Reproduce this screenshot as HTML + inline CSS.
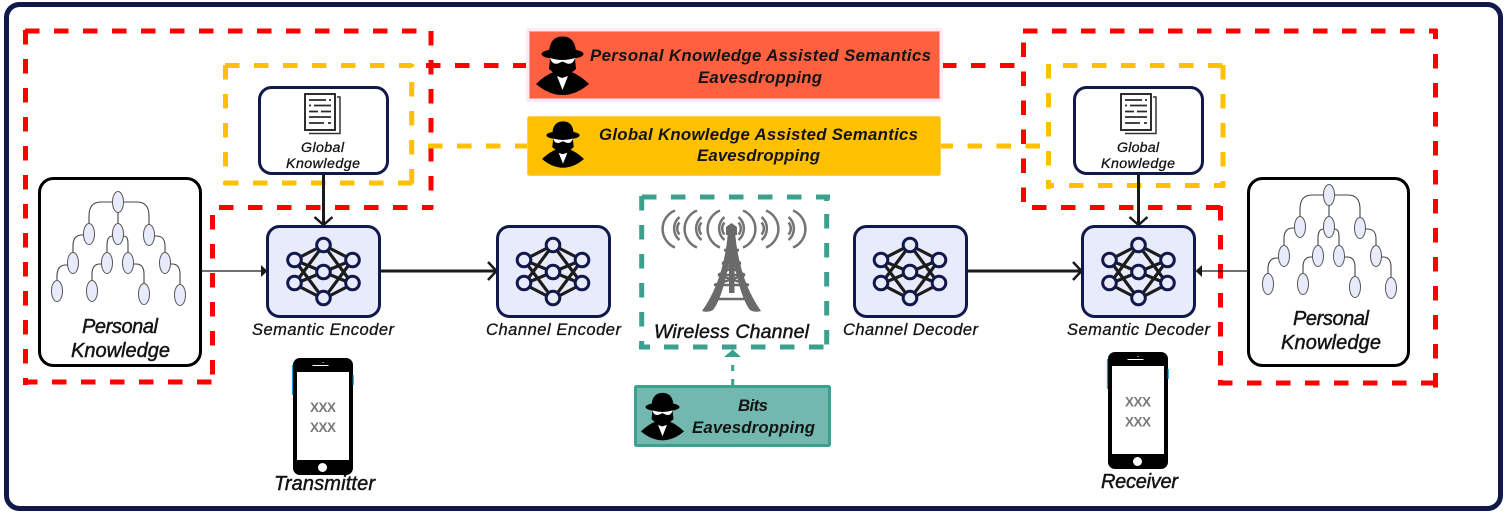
<!DOCTYPE html>
<html><head><meta charset="utf-8"><title>Semantic Eavesdropping Diagram</title>
<style>
html,body{margin:0;padding:0;background:#fff;width:1507px;height:515px;overflow:hidden}
svg{display:block}
text{font-family:"Liberation Sans",sans-serif;font-style:italic;fill:#141414}
.b{font-weight:bold;font-size:16.8px}
.m{font-size:16.5px;stroke:#141414;stroke-width:.3}
.l{font-size:20px;stroke:#141414;stroke-width:.45}
.s{font-size:14.2px;stroke:#141414;stroke-width:.3}
.x{font-style:normal;font-weight:bold;font-size:13.5px;fill:#7a7a7a}
</style></head><body>
<svg width="1507" height="515" viewBox="0 0 1507 515" xmlns="http://www.w3.org/2000/svg">
<defs>
<symbol id="spy" viewBox="0 0 53 60" overflow="visible">
<path d="M13 19 C13 7 18 1.500 26.500 1.500 C35 1.500 40 7 40 19Z" fill="#000"/>
<ellipse cx="26.500" cy="19" rx="21" ry="5.500" fill="#000"/>
<path d="M14 24 H39 L40 34 L34 39 H19 L13 34Z" fill="#000"/>
<path d="M14 23 Q26.500 27 39 23 Q37 30 31 28.500 L26.500 26.500 L22 28.500 Q16 30 14 23Z" fill="#fff"/>
<path d="M0 49 Q9 40 20 36 L33 36 Q44 40 53 49 Q40 60 26.500 60 Q13 60 0 49Z" fill="#000"/>
<path d="M21 41 L26 43 L32 41 L26.500 55Z" fill="#fff"/>
</symbol>
<g id="nn">
<g stroke="#1c1c1c" stroke-width="3.200" fill="none">
<path d="M-29 -12 L0 -27 L29 -12 M-29 12 L0 -27 L29 12 M-29 -12 L0 27 L29 -12 M-29 12 L0 27 L29 12 M-29 -12 L0 0 L29 -12 M-29 12 L0 0 L29 12"/>
</g>
<g fill="#e8ebfc" stroke="#10194a" stroke-width="3">
<circle cx="0" cy="-27" r="6.800"/><circle cx="0" cy="0" r="6.800"/><circle cx="0" cy="26" r="6.800"/>
<circle cx="-29" cy="-12" r="6.800"/><circle cx="-29" cy="11" r="6.800"/><circle cx="29" cy="-12" r="6.800"/><circle cx="29" cy="11" r="6.800"/>
</g>
</g>
<g id="tree">
<g fill="none" stroke="#444" stroke-width="1.100">
<path d="M118 202 H101 C92 202 89 208 89 216 V234 M118 202 H137 C146 202 149 208 149 216 V235 M118 202 V234"/>
<path d="M89 235 H82 C75 235 73 240 73 246 V263 M118 236 H113 C108 236 107 240 107 246 V263 M118 236 H123 C128 236 128 240 128 246 V263 M149 236 H156 C163 236 165 240 165 246 V263"/>
<path d="M73 265 H66 C59 265 57 270 57 276 V291 M107 264 H100 C94 264 92 268 92 274 V291 M128 264 H136 C142 264 144 268 144 274 V294 M165 264 H172 C178 264 180 268 180 274 V295"/>
</g>
<g fill="#e8ebfc" stroke="#555" stroke-width="1">
<ellipse cx="118" cy="202" rx="5.500" ry="10.500"/>
<ellipse cx="89" cy="234" rx="5.500" ry="10.500"/><ellipse cx="118" cy="234" rx="5.500" ry="10.500"/><ellipse cx="149" cy="235" rx="5.500" ry="10.500"/>
<ellipse cx="73" cy="263" rx="5.500" ry="10.500"/><ellipse cx="107" cy="263" rx="5.500" ry="10.500"/><ellipse cx="128" cy="263" rx="5.500" ry="10.500"/><ellipse cx="165" cy="263" rx="5.500" ry="10.500"/>
<ellipse cx="57" cy="291" rx="5.500" ry="10.500"/><ellipse cx="92" cy="291" rx="5.500" ry="10.500"/><ellipse cx="144" cy="294" rx="5.500" ry="10.500"/><ellipse cx="180" cy="295" rx="5.500" ry="10.500"/>
</g>
</g>
<g id="doc">
<path d="M1 1 H31 V37 H1Z" fill="#fff" stroke="#2e2e2e" stroke-width="2"/>
<path d="M33 4 H36 V40.500 H5" fill="none" stroke="#333" stroke-width="1.500"/>
<g stroke="#2a2a2a" stroke-width="1.700">
<path d="M5 7 H22 M25 7 H27 M5 12.500 H7 M10 12.500 H27 M5 18.500 H14 M17 18.500 H27 M5 24 H27 M5 30 H20 M24 30 H27"/>
</g>
</g>
<g id="phone">
<rect x="0.500" y="0" width="60" height="117" rx="7" fill="#000"/>
<rect x="4.500" y="14" width="52" height="88" fill="#fff"/>
<circle cx="30" cy="109.500" r="4.500" fill="#fff"/>
<path d="M20 7.500 H36" stroke="#fff" stroke-width="1"/><path d="M20 7.500 H20.500 M30 4.500 H31" stroke="#fff"/>
<path d="M0 7 V37" stroke="#0a9be0" stroke-width="1.200"/><path d="M60.700 17 V27" stroke="#0a9be0" stroke-width="1.200"/>
</g>
<g id="waves" fill="none" stroke="#747474" stroke-width="2.500">
<path d="M12 210.500 A20 20 0 0 0 12 247.500"/><path d="M16.500 217 A15 15 0 0 0 16.500 240"/><path d="M16.500 222.500 A9 9 0 0 0 16.500 234.500"/>
</g>
</defs>

<rect x="6.500" y="4.500" width="1494" height="504" rx="13" fill="#fff" stroke="#10194a" stroke-width="5"/>

<g fill="none" stroke="#ff0000" stroke-width="5" stroke-dasharray="14.500 14.500">
<path d="M25 31 H431"/>
<path d="M25.500 30 V385"/>
<path d="M431 31 V209"/>
<path d="M219 207.500 H433"/>
<path d="M212.500 215 V375"/>
<path d="M23 382 H212"/>
<path d="M1023 31 H1437"/>
<path d="M1023.500 42.500 V203"/>
<path d="M1032 207.500 H1221"/>
<path d="M1220.500 206 V385"/>
<path d="M1218 383 H1437"/>
<path d="M1435.500 54 V388"/>
<path d="M1435.500 29 V39"/>
<path d="M426 65.500 H527"/>
<path d="M942 65.500 H1015"/>
</g>
<g fill="none" stroke="#ffc000" stroke-width="5" stroke-dasharray="14.500 14.500">
<path d="M225 65.500 H412"/>
<path d="M225.500 65 V185"/>
<path d="M411.700 82 V185"/>
<path d="M224 183 H413"/>
<path d="M411.700 64 V67"/>
<path d="M1063 65.500 H1224"/><path d="M1223 65 V187"/><path d="M1048.500 64 V189"/>
<path d="M1069 185.500 H1225"/><path d="M1048 185.500 H1054"/>
<path d="M428 146 H527"/>
<path d="M1040 146 H938"/>
</g>
<g fill="none" stroke="#3ba08e" stroke-width="5" stroke-dasharray="14.500 14.500">
<path d="M642 197 H830"/>
<path d="M641.700 196 V349"/>
<path d="M826.700 214 V345"/>
<path d="M664 347 H826"/>
<path d="M639 347 H650"/>
<path d="M826.700 195 V201"/>
</g>

<!-- banners -->
<rect x="526" y="28" width="417" height="74" rx="2" fill="#fdeaf6"/>
<rect x="529.500" y="31.500" width="410" height="67" fill="#ff6040" stroke="#f8a0a0" stroke-width="1"/>
<rect x="527.500" y="116.500" width="413" height="59" rx="2" fill="#ffc000" stroke="#ffd050" stroke-width="1"/>
<use href="#spy" x="536" y="35" width="53" height="60"/>
<use href="#spy" x="542" y="120" width="42" height="48"/>
<text class="b" x="590" y="61" textLength="341">Personal Knowledge Assisted Semantics</text>
<text class="b" x="698" y="83" textLength="124">Eavesdropping</text>
<text class="b" x="599" y="140" textLength="319">Global Knowledge Assisted Semantics</text>
<text class="b" x="697" y="161" textLength="123">Eavesdropping</text>

<!-- bits -->
<rect x="635.500" y="386.500" width="194" height="59" rx="1" fill="#72b8ae" stroke="#3ba08e" stroke-width="3"/>
<use href="#spy" x="641" y="391" width="43" height="50"/>
<text class="b" x="738" y="411" textLength="30">Bits</text>
<text class="b" x="692" y="433" textLength="123">Eavesdropping</text>
<path d="M732.700 385 V358" stroke="#3ba08e" stroke-width="3" stroke-dasharray="6 8"/>
<path d="M732.700 349.500 L741 357 H724Z" fill="#3ba08e"/>

<!-- global knowledge -->
<rect x="259.500" y="87.500" width="128" height="86" rx="12" fill="#fff" stroke="#10194a" stroke-width="3"/>
<rect x="1074.500" y="87.500" width="128" height="86" rx="12" fill="#fff" stroke="#10194a" stroke-width="3"/>
<use href="#doc" x="304" y="93"/>
<use href="#doc" x="1120" y="93"/>
<text class="s" x="301" y="152" textLength="43">Global</text>
<text class="s" x="286" y="168" textLength="74">Knowledge</text>
<text class="s" x="1117" y="152" textLength="42">Global</text>
<text class="s" x="1101" y="168" textLength="74">Knowledge</text>

<!-- personal knowledge -->
<rect x="39.500" y="178.500" width="161" height="187" rx="14" fill="#fff" stroke="#000" stroke-width="3"/>
<rect x="1248.500" y="178.500" width="160" height="187" rx="14" fill="#fff" stroke="#000" stroke-width="3"/>
<use href="#tree"/>
<use href="#tree" x="1211" y="-7"/>
<text class="l" x="82" y="333" textLength="76">Personal</text>
<text class="l" x="71" y="357" textLength="99">Knowledge</text>
<text class="l" x="1293" y="325" textLength="76">Personal</text>
<text class="l" x="1281" y="349" textLength="100">Knowledge</text>

<!-- arrows -->
<g fill="none" stroke="#1a1a1a">
<path d="M323.500 174 V225" stroke-width="3"/>
<path d="M314.500 217 L323.500 225 L332.500 217" stroke-width="2.500"/>
<path d="M1138.500 174 V225" stroke-width="3"/>
<path d="M1129.500 217 L1138.500 225 L1147.500 217" stroke-width="2.500"/>
<path d="M381 271 H496" stroke-width="3"/>
<path d="M488 262 L496.500 271 L488 280" stroke-width="2.500"/>
<path d="M968 271 H1081" stroke-width="3"/>
<path d="M1073 262 L1081.500 271 L1073 280" stroke-width="2.500"/>
<path d="M201 271 H262" stroke-width="1.200"/>
<path d="M1248 271 H1200" stroke-width="1.200"/>
</g>
<path d="M261 265 L267.500 271 L261 277Z" fill="#1a1a1a"/>
<path d="M1202 265 L1195.500 271 L1202 277Z" fill="#1a1a1a"/>

<!-- NN boxes -->
<rect x="267.500" y="226.500" width="112" height="90" rx="12" fill="#e8ebfc" stroke="#10194a" stroke-width="3"/>
<rect x="497.500" y="226.500" width="112" height="90" rx="12" fill="#e8ebfc" stroke="#10194a" stroke-width="3"/>
<rect x="854.500" y="226.500" width="112" height="90" rx="12" fill="#e8ebfc" stroke="#10194a" stroke-width="3"/>
<rect x="1082.500" y="226.500" width="112" height="90" rx="12" fill="#e8ebfc" stroke="#10194a" stroke-width="3"/>
<use href="#nn" x="323.500" y="272"/>
<use href="#nn" x="553" y="272"/>
<use href="#nn" x="910" y="272"/>
<use href="#nn" x="1138.500" y="272"/>
<text class="m" x="252" y="335" textLength="142">Semantic Encoder</text>
<text class="m" x="486" y="335" textLength="135">Channel Encoder</text>
<text class="m" x="843" y="335" textLength="135">Channel Decoder</text>
<text class="m" x="1067" y="335" textLength="143">Semantic Decoder</text>

<!-- tower -->
<use href="#waves" x="663"/><use href="#waves" x="685"/><use href="#waves" x="708"/>
<use href="#waves" transform="matrix(-1 0 0 1 755 0)"/>
<use href="#waves" transform="matrix(-1 0 0 1 778 0)"/>
<use href="#waves" transform="matrix(-1 0 0 1 805 0)"/>
<path d="M728 232 L735 232 Q739 280 761 311 Q755 313 750 310 Q740 298 731.500 250 Q723 298 713 310 Q708 313 702 311 Q724 280 728 232Z" fill="#6a6a6a"/>
<g fill="none" stroke="#6a6a6a" stroke-width="2.400">
<path d="M724 250 H739 M722 263 H741 M718 275 H745 M714 285 H749 M711 299 H752"/>
<path d="M725 250 L740 263 M738 250 L723 263 M722 263 L745 275 M741 263 L718 275 M718 275 L749 285 M745 275 L714 285"/>
</g>
<path d="M731.500 223 L737 227 V235 H726 V227Z" fill="#6a6a6a"/>
<rect x="729" y="232" width="5.500" height="61" fill="#6a6a6a"/>
<text class="l" x="654" y="338" textLength="155" style="font-size:19.500px">Wireless Channel</text>

<!-- phones -->
<use href="#phone" x="292.500" y="358"/>
<use href="#phone" x="1107.500" y="352"/>
<text class="x" x="310" y="412" textLength="26">XXX</text>
<text class="x" x="310" y="432" textLength="26">XXX</text>
<text class="x" x="1125" y="406.500" textLength="26">XXX</text>
<text class="x" x="1125" y="426.500" textLength="26">XXX</text>
<text class="l" x="274" y="490" textLength="101">Transmitter</text>
<text class="l" x="1101" y="488" textLength="77">Receiver</text>
</svg>
</body></html>
